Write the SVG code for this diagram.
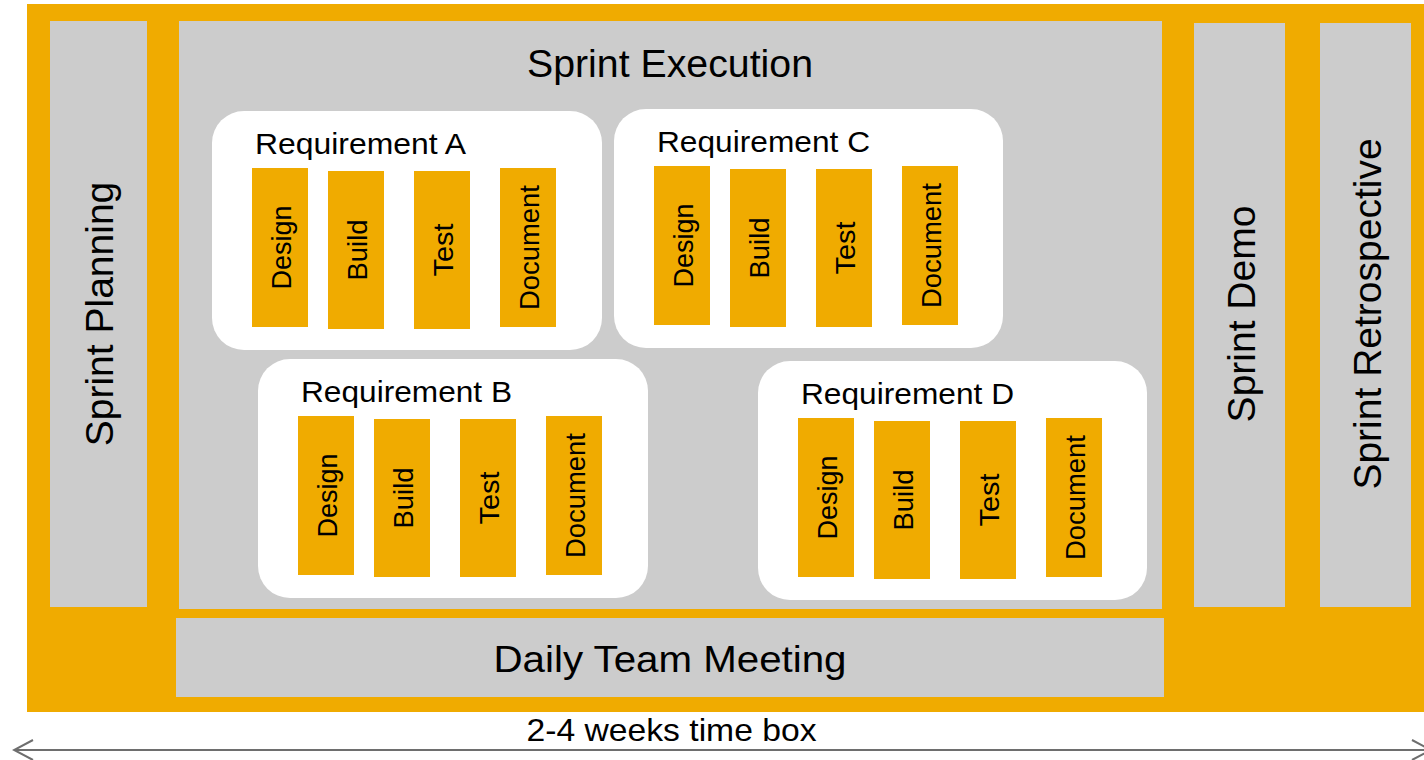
<svg xmlns="http://www.w3.org/2000/svg" width="1424" height="760" viewBox="0 0 1424 760">
  <style>
    .bg { fill: #F0AB00; }
    .gray { fill: #CCCCCC; }
    .req { fill: #FFFFFF; }
    .bar { fill: #F0AB00; }
    text { font-family: "Liberation Sans", Arial, sans-serif; fill: #000000; }
    .big { font-size: 39px; }
    .reqlabel { font-size: 29.5px; }
    .task { font-size: 28px; text-anchor: middle; }
    .mid { text-anchor: middle; }
    .conn { stroke: #6E6E6E; stroke-width: 2; fill: none; }
  </style>
  <defs>
    <marker id="chev" markerUnits="userSpaceOnUse" markerWidth="22" markerHeight="24" refX="20" refY="11" orient="auto-start-reverse" viewBox="0 0 22 24">
      <path d="M1,1 L20,11 L1,21" fill="none" stroke="#6E6E6E" stroke-width="2"/>
    </marker>
    <g id="tasks">
      <rect class="bar" x="40" y="57" width="56" height="159"/>
      <rect class="bar" x="116" y="60" width="56" height="158"/>
      <rect class="bar" x="202" y="60" width="56" height="158"/>
      <rect class="bar" x="288" y="57" width="56" height="159"/>
      <text class="task" transform="translate(78.5,136.5) rotate(-90)" textLength="84" lengthAdjust="spacingAndGlyphs">Design</text>
      <text class="task" transform="translate(154.5,139) rotate(-90)" textLength="61" lengthAdjust="spacingAndGlyphs">Build</text>
      <text class="task" transform="translate(240.5,139) rotate(-90)" textLength="53" lengthAdjust="spacingAndGlyphs">Test</text>
      <text class="task" transform="translate(327,136.5) rotate(-90)" textLength="125" lengthAdjust="spacingAndGlyphs">Document</text>
    </g>
  </defs>

  <rect id="timebox" class="bg" x="27" y="4" width="1397" height="708"/>

  <g id="sprint-planning">
    <rect class="gray" x="50" y="21" width="97" height="586"/>
    <text class="big mid" transform="translate(113,314) rotate(-90)">Sprint Planning</text>
  </g>

  <g id="sprint-execution">
    <rect class="gray" x="179" y="21" width="983" height="588"/>
    <text class="big mid" x="670" y="77" textLength="286" lengthAdjust="spacingAndGlyphs">Sprint Execution</text>
  </g>

  <g id="requirement-a" transform="translate(212,111)">
    <rect class="req" x="0" y="0" width="390" height="239" rx="32" ry="32"/>
    <text class="reqlabel" x="43" y="42.5" textLength="211" lengthAdjust="spacingAndGlyphs">Requirement A</text>
    <use href="#tasks"/>
  </g>

  <g id="requirement-c" transform="translate(614,109)">
    <rect class="req" x="0" y="0" width="389" height="239" rx="32" ry="32"/>
    <text class="reqlabel" x="43" y="42.5" textLength="213" lengthAdjust="spacingAndGlyphs">Requirement C</text>
    <use href="#tasks"/>
  </g>

  <g id="requirement-b" transform="translate(258,359)">
    <rect class="req" x="0" y="0" width="390" height="239" rx="32" ry="32"/>
    <text class="reqlabel" x="43" y="42.5" textLength="211" lengthAdjust="spacingAndGlyphs">Requirement B</text>
    <use href="#tasks"/>
  </g>

  <g id="requirement-d" transform="translate(758,361)">
    <rect class="req" x="0" y="0" width="389" height="239" rx="32" ry="32"/>
    <text class="reqlabel" x="43" y="42.5" textLength="213" lengthAdjust="spacingAndGlyphs">Requirement D</text>
    <use href="#tasks"/>
  </g>

  <g id="daily-team-meeting">
    <rect class="gray" x="176" y="618" width="988" height="79"/>
    <text class="mid" x="670" y="672" font-size="36" textLength="353" lengthAdjust="spacingAndGlyphs">Daily Team Meeting</text>
  </g>

  <g id="sprint-demo">
    <rect class="gray" x="1194" y="23" width="91" height="584"/>
    <text class="big mid" transform="translate(1255,314) rotate(-90)">Sprint Demo</text>
  </g>

  <g id="sprint-retrospective">
    <rect class="gray" x="1320" y="23" width="91" height="584"/>
    <text class="big mid" transform="translate(1381,314) rotate(-90)">Sprint Retrospective</text>
  </g>

  <g id="connectors">
    <line class="conn" x1="14" y1="750" x2="1431" y2="750" marker-start="url(#chev)" marker-end="url(#chev)"/>
  </g>
  <text id="timebox-label" class="mid" x="671.5" y="741" font-size="30.5" textLength="290" lengthAdjust="spacingAndGlyphs">2-4 weeks time box</text>
</svg>
